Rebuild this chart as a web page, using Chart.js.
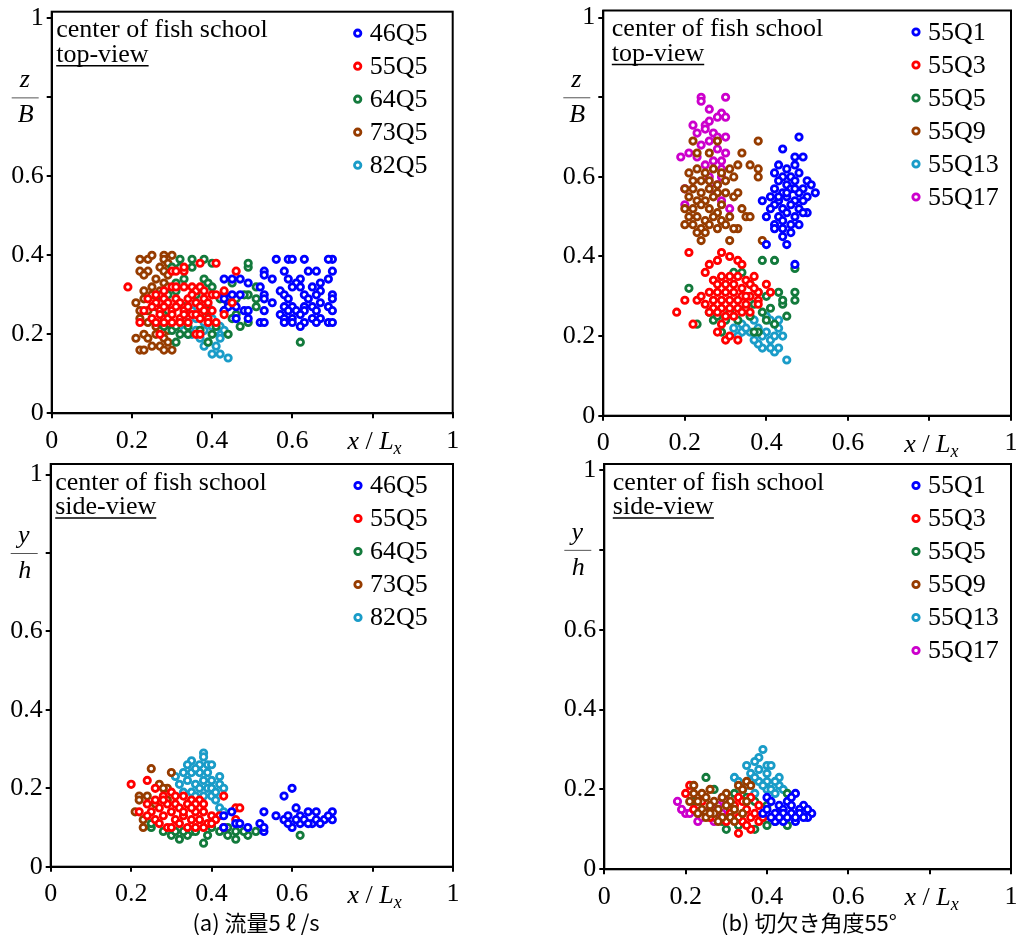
<!DOCTYPE html>
<html>
<head>
<meta charset="utf-8">
<script src="https://cdn.jsdelivr.net/npm/chart.js@4.4.1/dist/chart.umd.min.js"></script>
<style>
  body { margin: 0; background: #fff; width: 1017px; height: 935px; position: relative; overflow: hidden; }
  canvas { position: absolute; }
  .cap { position: absolute; top: 906px; width: 320px; text-align: center; font: 22px "Noto Sans CJK JP"; line-height: 30px; color: #000; }
</style>
</head>
<body>
<canvas id="aTop" width="490" height="465" style="left:0;top:0"></canvas>
<canvas id="bTop" width="487" height="465" style="left:530px;top:0"></canvas>
<canvas id="aSide" width="490" height="495" style="left:0;top:440px"></canvas>
<canvas id="bSide" width="487" height="495" style="left:530px;top:440px"></canvas>
<div class="cap" style="left:96px">(a) 流量5 ℓ /s</div>
<div class="cap" style="left:649px">(b) 切欠き角度55°</div>
<script>
// tick values, series names
const xTicks = [0, 0.2, 0.4, 0.6, 0.8, 1];
const yTicks = [0, 0.2, 0.4, 0.6, 0.8, 1];
const seriesA = ['46Q5', '55Q5', '64Q5', '73Q5', '82Q5'];
const seriesB = ['55Q1', '55Q3', '55Q5', '55Q9', '55Q13', '55Q17'];

// (a) top-view, [x/Lx, z/B]
const aTop46 = [[0.56,0.39],[0.59,0.39],[0.60,0.39],[0.63,0.39],[0.70,0.39],[0.69,0.39],
  [0.53,0.36],[0.58,0.36],[0.64,0.36],[0.66,0.36],[0.70,0.36],[0.53,0.35],
  [0.43,0.34],[0.45,0.34],[0.47,0.34],[0.49,0.33],[0.55,0.34],[0.59,0.34],[0.62,0.34],[0.69,0.34],[0.61,0.33],[0.67,0.33],
  [0.52,0.32],[0.60,0.32],[0.62,0.32],[0.65,0.32],[0.67,0.31],[0.57,0.31],
  [0.43,0.30],[0.45,0.30],[0.47,0.30],[0.53,0.30],[0.58,0.30],[0.63,0.30],[0.66,0.30],[0.70,0.30],
  [0.43,0.29],[0.53,0.29],[0.59,0.29],[0.64,0.29],[0.70,0.29],[0.55,0.28],
  [0.44,0.27],[0.46,0.27],[0.58,0.27],[0.60,0.27],[0.63,0.27],[0.65,0.27],[0.67,0.28],[0.69,0.27],
  [0.43,0.26],[0.48,0.26],[0.49,0.26],[0.53,0.26],[0.59,0.26],[0.61,0.26],[0.63,0.26],[0.66,0.26],[0.70,0.26],[0.57,0.25],
  [0.46,0.24],[0.49,0.24],[0.58,0.24],[0.60,0.24],[0.65,0.24],[0.67,0.24],[0.62,0.25],
  [0.52,0.23],[0.53,0.23],[0.58,0.23],[0.60,0.23],[0.63,0.23],[0.66,0.23],[0.69,0.23],[0.70,0.23],[0.62,0.22]];
const aTop55 = [[0.19,0.32],[0.37,0.38],[0.41,0.38],[0.46,0.36],[0.30,0.36],[0.31,0.36],[0.33,0.36],[0.33,0.37],
  [0.26,0.30],[0.28,0.31],[0.30,0.32],[0.31,0.32],[0.33,0.32],[0.35,0.32],[0.36,0.31],[0.37,0.32],[0.38,0.31],[0.40,0.30],[0.41,0.30],[0.43,0.31],
  [0.24,0.29],[0.26,0.28],[0.28,0.29],[0.29,0.28],[0.31,0.29],[0.32,0.28],[0.34,0.29],[0.35,0.30],[0.36,0.28],[0.38,0.29],[0.39,0.28],[0.45,0.28],
  [0.23,0.26],[0.25,0.27],[0.27,0.26],[0.28,0.27],[0.30,0.26],[0.31,0.27],[0.33,0.26],[0.34,0.27],[0.35,0.25],[0.37,0.27],[0.38,0.26],[0.40,0.26],
  [0.25,0.24],[0.27,0.25],[0.29,0.24],[0.30,0.25],[0.32,0.24],[0.33,0.25],[0.36,0.25],[0.37,0.24],[0.39,0.24],[0.43,0.25],
  [0.22,0.23],[0.26,0.23],[0.28,0.23],[0.30,0.23],[0.32,0.23],[0.34,0.23],[0.39,0.23],[0.41,0.23],
  [0.27,0.20],[0.36,0.20],[0.37,0.20]];
const aTop64 = [[0.32,0.39],[0.35,0.39],[0.38,0.39],[0.40,0.38],[0.49,0.37],[0.49,0.38],[0.30,0.37],[0.32,0.37],[0.35,0.37],
  [0.38,0.34],[0.39,0.33],[0.40,0.32],[0.45,0.33],[0.51,0.32],[0.49,0.30],[0.51,0.29],[0.51,0.27],[0.49,0.23],[0.47,0.22],[0.44,0.20],
  [0.40,0.20],[0.39,0.18],[0.31,0.18],[0.32,0.20],[0.30,0.21],[0.34,0.20],[0.62,0.18],
  [0.27,0.30],[0.29,0.30],[0.31,0.31],[0.36,0.30],[0.42,0.29],[0.44,0.28],[0.46,0.29],[0.48,0.30],
  [0.26,0.27],[0.29,0.26],[0.33,0.27],[0.37,0.25],[0.39,0.26],[0.43,0.26],[0.46,0.25],
  [0.28,0.22],[0.31,0.22],[0.34,0.22],[0.37,0.21],[0.41,0.22],[0.45,0.24],[0.33,0.34],[0.31,0.33]];
const aTop73 = [[0.22,0.39],[0.24,0.39],[0.25,0.40],[0.28,0.40],[0.30,0.40],[0.28,0.39],[0.29,0.38],
  [0.22,0.36],[0.24,0.36],[0.27,0.37],[0.28,0.36],[0.29,0.35],[0.23,0.35],
  [0.26,0.34],[0.28,0.33],[0.25,0.32],[0.27,0.31],[0.23,0.31],[0.29,0.32],
  [0.21,0.28],[0.23,0.29],[0.25,0.30],[0.22,0.26],[0.24,0.26],[0.27,0.28],
  [0.22,0.24],[0.24,0.23],[0.26,0.22],[0.28,0.24],[0.29,0.21],
  [0.21,0.19],[0.23,0.20],[0.24,0.19],[0.26,0.20],[0.28,0.19],[0.29,0.18],[0.27,0.17],
  [0.22,0.16],[0.23,0.16],[0.25,0.17],[0.28,0.16],[0.30,0.16]];
const aTop82 = [[0.44,0.14],[0.42,0.15],[0.40,0.15],[0.41,0.17],[0.38,0.17],[0.39,0.18],[0.37,0.19],[0.35,0.20],[0.34,0.20],[0.42,0.20],[0.42,0.19],[0.42,0.22],[0.41,0.21],
  [0.33,0.21],[0.36,0.21],[0.38,0.21],[0.40,0.22],[0.34,0.23],[0.36,0.24],[0.38,0.23],[0.40,0.24],[0.35,0.26],[0.37,0.27],[0.39,0.27],[0.36,0.28],[0.33,0.25],[0.43,0.21]];

// (b) top-view
const bTop1 = [[0.48,0.70],[0.44,0.67],[0.47,0.65],[0.49,0.65],[0.47,0.63],[0.43,0.63],[0.45,0.62],[0.42,0.61],[0.48,0.61],[0.50,0.59],[0.51,0.58],[0.52,0.56],
  [0.44,0.60],[0.46,0.60],[0.43,0.59],[0.45,0.58],[0.47,0.59],[0.49,0.57],[0.42,0.57],[0.44,0.56],[0.46,0.57],[0.48,0.56],[0.50,0.55],
  [0.41,0.55],[0.43,0.54],[0.45,0.55],[0.47,0.54],[0.49,0.54],[0.39,0.54],[0.42,0.53],[0.44,0.52],[0.46,0.53],[0.48,0.52],[0.50,0.51],
  [0.40,0.50],[0.43,0.50],[0.45,0.51],[0.47,0.50],[0.49,0.51],[0.42,0.48],[0.44,0.49],[0.46,0.48],[0.48,0.48],[0.42,0.47],[0.44,0.47],
  [0.46,0.46],[0.44,0.45],[0.45,0.43],[0.40,0.43],[0.47,0.38],[0.45,0.56],[0.47,0.57],[0.43,0.55],[0.41,0.52]];
const bTop3 = [[0.21,0.41],[0.29,0.41],[0.28,0.39],[0.31,0.40],[0.33,0.39],[0.34,0.38],[0.26,0.38],[0.25,0.36],[0.18,0.26],[0.20,0.29],[0.22,0.23],[0.23,0.29],
  [0.29,0.23],[0.28,0.21],[0.30,0.19],[0.33,0.19],[0.31,0.20],[0.40,0.33],[0.41,0.31],[0.38,0.31],[0.38,0.29],[0.38,0.28],
  [0.27,0.34],[0.29,0.35],[0.31,0.35],[0.33,0.35],[0.35,0.34],[0.36,0.33],[0.28,0.33],[0.30,0.33],[0.32,0.33],[0.34,0.32],[0.37,0.32],
  [0.26,0.31],[0.28,0.31],[0.30,0.31],[0.32,0.31],[0.34,0.30],[0.36,0.30],[0.24,0.30],[0.27,0.29],[0.29,0.29],[0.31,0.29],[0.33,0.29],[0.35,0.28],
  [0.25,0.28],[0.27,0.27],[0.29,0.27],[0.31,0.27],[0.33,0.27],[0.36,0.26],[0.26,0.26],[0.28,0.26],[0.30,0.25],[0.32,0.25],[0.34,0.26],[0.35,0.30],[0.37,0.35]];
const bTop5 = [[0.21,0.32],[0.23,0.23],[0.39,0.39],[0.42,0.39],[0.47,0.37],[0.43,0.31],[0.47,0.31],[0.47,0.29],[0.44,0.28],[0.45,0.25],[0.42,0.23],[0.38,0.21],[0.37,0.21],[0.29,0.21],
  [0.27,0.24],[0.28,0.25],[0.32,0.36],[0.34,0.36],[0.36,0.33],[0.38,0.31],[0.40,0.30],[0.41,0.27],[0.39,0.26],[0.36,0.25],[0.33,0.24],[0.31,0.26],[0.40,0.24],[0.35,0.27],[0.37,0.28],[0.30,0.24],[0.26,0.26],[0.44,0.29]];
const bTop9 = [[0.22,0.69],[0.38,0.69],[0.28,0.69],[0.34,0.66],[0.23,0.66],[0.26,0.66],[0.33,0.63],[0.36,0.63],[0.38,0.62],[0.38,0.60],[0.31,0.62],[0.32,0.60],[0.32,0.55],[0.33,0.56],[0.34,0.52],[0.35,0.50],[0.36,0.50],[0.31,0.44],[0.33,0.47],[0.24,0.44],[0.39,0.44],
  [0.21,0.61],[0.23,0.62],[0.25,0.61],[0.27,0.62],[0.29,0.61],[0.22,0.59],[0.24,0.59],[0.26,0.59],[0.28,0.58],[0.30,0.59],
  [0.20,0.57],[0.22,0.57],[0.24,0.56],[0.26,0.57],[0.28,0.56],[0.30,0.56],[0.21,0.55],[0.23,0.54],[0.25,0.54],[0.27,0.55],[0.29,0.53],
  [0.20,0.52],[0.22,0.52],[0.24,0.53],[0.26,0.52],[0.28,0.51],[0.21,0.50],[0.23,0.50],[0.25,0.49],[0.27,0.50],[0.29,0.49],[0.31,0.50],
  [0.20,0.48],[0.22,0.48],[0.24,0.47],[0.26,0.48],[0.28,0.47],[0.30,0.48],[0.32,0.47],[0.23,0.46],[0.25,0.46]];
const bTop13 = [[0.45,0.14],[0.42,0.16],[0.41,0.17],[0.43,0.17],[0.44,0.20],[0.43,0.22],[0.39,0.17],[0.38,0.18],[0.37,0.19],[0.34,0.21],[0.33,0.20],[0.32,0.22],[0.34,0.23],
  [0.37,0.24],[0.41,0.24],[0.43,0.24],[0.40,0.21],[0.41,0.19],[0.36,0.21],[0.39,0.20],[0.42,0.20],[0.38,0.22],[0.35,0.22],[0.40,0.25]];
const bTop17 = [[0.24,0.80],[0.24,0.79],[0.30,0.80],[0.26,0.77],[0.29,0.76],[0.28,0.75],[0.30,0.75],[0.25,0.73],[0.22,0.73],[0.23,0.71],[0.30,0.70],[0.27,0.71],[0.25,0.72],
  [0.19,0.65],[0.21,0.66],[0.30,0.66],[0.28,0.67],[0.26,0.69],[0.24,0.68],[0.29,0.64],[0.27,0.64],[0.25,0.63],[0.23,0.65],[0.29,0.62],
  [0.20,0.57],[0.20,0.53],[0.31,0.52],[0.29,0.54],[0.28,0.58],[0.26,0.60],[0.29,0.60],[0.27,0.57],[0.28,0.70],[0.26,0.74]];

// (a) side-view, [x/Lx, y/h]
const aSide46 = [[0.58,0.18],[0.60,0.20],[0.53,0.14],[0.56,0.13],[0.58,0.12],[0.59,0.13],[0.61,0.15],[0.60,0.10],[0.62,0.11],[0.64,0.14],[0.66,0.14],[0.70,0.14],[0.70,0.12],[0.68,0.12],[0.65,0.11],[0.66,0.12],[0.62,0.13],[0.63,0.12],[0.67,0.11],[0.59,0.11],[0.61,0.12],
  [0.43,0.13],[0.45,0.14],[0.43,0.10],[0.46,0.11],[0.47,0.11],[0.49,0.10],[0.52,0.11],[0.53,0.09],[0.53,0.10],[0.64,0.11],[0.69,0.13]];
const aSide55 = [[0.20,0.21],[0.24,0.22],[0.26,0.20],[0.43,0.18],[0.37,0.17],[0.46,0.15],[0.47,0.15],[0.46,0.12],[0.22,0.14],
  [0.24,0.16],[0.26,0.17],[0.28,0.18],[0.30,0.19],[0.31,0.18],[0.33,0.18],[0.35,0.17],[0.36,0.16],[0.38,0.16],
  [0.25,0.14],[0.27,0.15],[0.29,0.16],[0.31,0.16],[0.32,0.15],[0.34,0.16],[0.36,0.14],[0.38,0.14],[0.40,0.13],[0.42,0.13],
  [0.24,0.13],[0.26,0.12],[0.28,0.13],[0.30,0.14],[0.31,0.12],[0.33,0.13],[0.35,0.12],[0.37,0.12],[0.39,0.11],[0.41,0.12],
  [0.27,0.11],[0.29,0.10],[0.30,0.10],[0.32,0.11],[0.34,0.10],[0.36,0.10],[0.38,0.10],[0.40,0.11],[0.43,0.10],[0.28,0.17],[0.33,0.14],[0.35,0.15]];
const aSide64 = [[0.25,0.10],[0.25,0.11],[0.30,0.08],[0.32,0.07],[0.35,0.09],[0.38,0.06],[0.39,0.08],[0.42,0.09],[0.44,0.08],[0.46,0.07],[0.49,0.08],[0.51,0.09],[0.62,0.08],
  [0.28,0.09],[0.31,0.09],[0.34,0.08],[0.36,0.09],[0.40,0.10],[0.44,0.10],[0.48,0.09],[0.33,0.09],[0.46,0.09]];
const aSide73 = [[0.25,0.25],[0.30,0.24],[0.27,0.21],[0.29,0.20],[0.24,0.18],[0.22,0.18],[0.22,0.17],[0.21,0.14],[0.23,0.12],[0.23,0.10],[0.28,0.20],[0.26,0.16],[0.29,0.17]];
const aSide82 = [[0.38,0.29],[0.38,0.28],[0.35,0.27],[0.34,0.26],[0.37,0.26],[0.39,0.26],[0.40,0.26],[0.33,0.24],[0.31,0.23],[0.35,0.24],[0.37,0.24],[0.42,0.23],[0.42,0.21],[0.43,0.20],[0.40,0.18],[0.41,0.17],[0.42,0.15],[0.43,0.14],
  [0.32,0.21],[0.34,0.22],[0.36,0.21],[0.38,0.22],[0.40,0.22],[0.33,0.19],[0.35,0.19],[0.37,0.20],[0.39,0.20],[0.36,0.18],[0.38,0.18],[0.40,0.20],[0.39,0.24],[0.36,0.25],[0.41,0.19]];

// (b) side-view
const bSide1 = [[0.47,0.19],[0.40,0.18],[0.41,0.17],[0.39,0.14],[0.40,0.15],[0.51,0.14],[0.50,0.13],[0.47,0.12],[0.44,0.12],[0.42,0.12],[0.49,0.16],[0.45,0.17],
  [0.43,0.16],[0.44,0.15],[0.46,0.16],[0.48,0.15],[0.42,0.14],[0.44,0.14],[0.46,0.14],[0.48,0.14],[0.50,0.15],[0.43,0.13],[0.45,0.13],[0.47,0.13],[0.49,0.13],[0.46,0.18],[0.41,0.13]];
const bSide3 = [[0.21,0.21],[0.20,0.19],[0.33,0.09],[0.36,0.10],[0.38,0.12],[0.38,0.16],[0.33,0.18],[0.35,0.15],[0.34,0.12],[0.31,0.14],[0.32,0.16],[0.36,0.13],[0.37,0.14],[0.34,0.17],[0.35,0.11],[0.30,0.12],[0.33,0.13],[0.24,0.17],[0.22,0.15],[0.26,0.13],[0.39,0.13],[0.36,0.18]];
const bSide5 = [[0.25,0.23],[0.27,0.20],[0.45,0.19],[0.45,0.11],[0.40,0.11],[0.37,0.10],[0.30,0.10],[0.42,0.12],[0.35,0.18],[0.32,0.19],[0.37,0.17],[0.40,0.16],[0.29,0.12],[0.33,0.11],[0.39,0.13],[0.22,0.17],[0.43,0.14],[0.31,0.15]];
const bSide9 = [[0.33,0.21],[0.35,0.22],[0.36,0.21],[0.34,0.20],[0.22,0.21],[0.26,0.20],[0.30,0.19],[0.21,0.17],[0.35,0.17],
  [0.22,0.19],[0.24,0.19],[0.23,0.17],[0.25,0.18],[0.27,0.17],[0.29,0.18],[0.31,0.17],[0.24,0.15],[0.26,0.16],[0.28,0.15],[0.30,0.16],[0.32,0.15],
  [0.23,0.14],[0.25,0.14],[0.27,0.14],[0.29,0.13],[0.31,0.13],[0.25,0.13],[0.28,0.12],[0.32,0.12],[0.34,0.14],[0.26,0.14]];
const bSide13 = [[0.39,0.30],[0.38,0.28],[0.37,0.27],[0.35,0.26],[0.40,0.26],[0.41,0.26],[0.32,0.23],[0.33,0.22],[0.43,0.23],[0.43,0.21],[0.44,0.20],[0.37,0.19],[0.40,0.20],
  [0.36,0.24],[0.38,0.25],[0.40,0.24],[0.42,0.22],[0.36,0.22],[0.38,0.22],[0.40,0.22],[0.35,0.21],[0.39,0.21],[0.41,0.20],[0.37,0.23],[0.34,0.20],[0.42,0.19]];
const bSide17 = [[0.18,0.17],[0.20,0.14],[0.21,0.14],[0.23,0.12],[0.27,0.12],[0.29,0.18],[0.30,0.17],[0.19,0.15],[0.22,0.15],[0.24,0.13],[0.26,0.15],[0.28,0.16],[0.29,0.14],[0.27,0.13]];

const colorsA = ['#0000ff', '#ff0000', '#137a3c', '#963c00', '#1a9cc8'];
const colorsB = ['#0000ff', '#ff0000', '#137a3c', '#963c00', '#1a9cc8', '#cc00cc'];

const SERIF = '"Liberation Serif", "Times New Roman", serif';
const FS = 26;
const PR = 3.2, PW = 2.8;

// box, legend, texts and the axis fractions
const panelDeco = {
    id: 'panelDeco',
    afterDraw(chart, args, o) {
        const ctx = chart.ctx;
        const a = chart.chartArea;
        const xs = chart.scales.x, ys = chart.scales.y;
        ctx.save();
        ctx.strokeStyle = '#000';
        ctx.lineWidth = 2;
        ctx.strokeRect(a.left, a.top, a.right - a.left, a.bottom - a.top);

        // header text
        ctx.fillStyle = '#000';
        ctx.textBaseline = 'alphabetic';
        ctx.textAlign = 'left';
        ctx.font = FS + 'px ' + SERIF;
        ctx.fillText('center of fish school', a.left + o.dx, a.top + 25.5);
        ctx.fillText(o.view, a.left + o.dx, a.top + 50);
        const w = ctx.measureText(o.view).width;
        ctx.lineWidth = 1.6;
        ctx.beginPath();
        ctx.moveTo(a.left + o.dx, a.top + 54);
        ctx.lineTo(a.left + o.dx + w, a.top + 54);
        ctx.stroke();

        // legend
        ctx.textBaseline = 'middle';
        chart.data.datasets.forEach((ds, i) => {
            const cx = a.right - 95, cy = a.top + 21.5 + i * 33;
            ctx.beginPath();
            ctx.arc(cx, cy, PR, 0, Math.PI * 2);
            ctx.fillStyle = '#fff';
            ctx.fill();
            ctx.lineWidth = PW;
            ctx.strokeStyle = ds.borderColor;
            ctx.stroke();
            ctx.fillStyle = '#000';
            ctx.fillText(ds.label, cx + 12, cy + 1);
        });

        // y-axis fraction at the 0.8 tick
        const fy = ys.getPixelForValue(0.8);
        const fx = a.left - 26;
        ctx.strokeStyle = '#555';
        ctx.lineWidth = 1;
        ctx.beginPath();
        ctx.moveTo(fx - 14, fy + 0.5);
        ctx.lineTo(fx + 13, fy + 0.5);
        ctx.stroke();
        ctx.fillStyle = '#000';
        ctx.textAlign = 'center';
        ctx.textBaseline = 'alphabetic';
        ctx.font = 'italic ' + FS + 'px ' + SERIF;
        ctx.fillText(o.num, fx - 1, fy - 10);
        ctx.fillText(o.den, fx, fy + 25);

        // x-axis label at the 0.8 tick
        const parts = [
            ['x', 'italic ' + FS + 'px ' + SERIF, 0],
            [' / ', FS + 'px ' + SERIF, 0],
            ['L', 'italic ' + FS + 'px ' + SERIF, 0],
            ['x', 'italic 18px ' + SERIF, 5]
        ];
        let total = 0;
        parts.forEach(p => { ctx.font = p[1]; p.push(ctx.measureText(p[0]).width); total += p[3]; });
        let px = xs.getPixelForValue(0.8) + 2 - total / 2;
        const base = a.bottom + 36;
        ctx.textAlign = 'left';
        parts.forEach(p => {
            ctx.font = p[1];
            ctx.fillText(p[0], px, base + p[2]);
            px += p[3];
        });
        ctx.restore();
    }
};

function fmt(v) {
    if (v === 0.8) return '';
    return (v === 0 || v === 1) ? String(v) : v.toFixed(1);
}

function makePanel(id, names, colors, sets, order, p) {
    const datasets = names.map((n, i) => ({
        label: n,
        data: sets[i].map(([x, y]) => ({ x, y })),
        borderColor: colors[i],
        backgroundColor: '#fff',
        pointRadius: PR,
        pointBorderWidth: PW,
        pointHoverRadius: PR,
        showLine: false,
        order: order[i]
    }));
    const tickFont = { family: SERIF, size: FS };
    return new Chart(document.getElementById(id), {
        type: 'scatter',
        data: { datasets },
        options: {
            responsive: false,
            animation: false,
            events: [],
            layout: { padding: { left: 0, top: p.top, right: p.right, bottom: 0 } },
            plugins: {
                legend: { display: false },
                tooltip: { enabled: false },
                panelDeco: { dx: p.dx, view: p.view, num: p.num, den: p.den }
            },
            scales: {
                x: {
                    type: 'linear', min: 0, max: 1,
                    afterBuildTicks: s => { s.ticks = xTicks.map(v => ({ value: v })); },
                    afterFit: s => { s.height = p.xh; s.paddingLeft = 0; s.paddingRight = 0; },
                    ticks: { font: tickFont, color: '#000', padding: 7, maxRotation: 0, callback: v => fmt(v) },
                    grid: { drawOnChartArea: false, drawTicks: true, tickLength: 5, lineWidth: 2, color: '#000' },
                    border: { display: true, color: '#000', width: 2 }
                },
                y: {
                    type: 'linear', min: 0, max: p.ymax,
                    afterBuildTicks: s => { s.ticks = yTicks.map(v => ({ value: v })); },
                    afterFit: s => { s.width = p.yw; s.paddingTop = 0; s.paddingBottom = 0; },
                    ticks: { font: tickFont, color: '#000', padding: 3, callback: v => fmt(v) },
                    grid: { drawOnChartArea: false, drawTicks: true, tickLength: 5, lineWidth: 2, color: '#000' },
                    border: { display: true, color: '#000', width: 2 }
                }
            }
        },
        plugins: [panelDeco]
    });
}

makePanel('aTop', seriesA, colorsA, [aTop46, aTop55, aTop64, aTop73, aTop82], [1, 0, 2, 3, 4],
    { top: 11.7, right: 37.3, yw: 51.7, xh: 51.7, ymax: 1.017, dx: 4.5, view: 'top-view', num: 'z', den: 'B' });
makePanel('bTop', seriesB, colorsB, [bTop1, bTop3, bTop5, bTop9, bTop13, bTop17], [0, 1, 2, 3, 4, 5],
    { top: 10.5, right: 3.7, yw: 73.3, xh: 49.3, ymax: 1.018, dx: 8.5, view: 'top-view', num: 'z', den: 'B' });
makePanel('aSide', seriesA, colorsA, [aSide46, aSide55, aSide64, aSide73, aSide82], [0, 1, 4, 2, 3],
    { top: 24, right: 37, yw: 50.7, xh: 68.3, ymax: 1.027, dx: 4.5, view: 'side-view', num: 'y', den: 'h' });
makePanel('bSide', seriesB, colorsB, [bSide1, bSide3, bSide5, bSide9, bSide13, bSide17], [0, 2, 3, 1, 4, 5],
    { top: 24, right: 3, yw: 74.3, xh: 65.7, ymax: 1.015, dx: 8.5, view: 'side-view', num: 'y', den: 'h' });
</script>
</body>
</html>
